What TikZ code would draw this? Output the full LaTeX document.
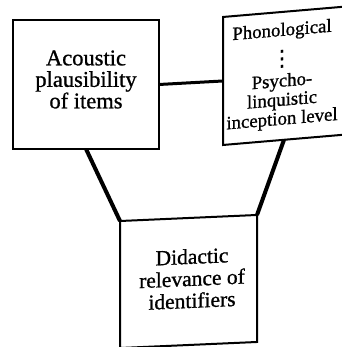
\documentclass[tikz,border=0pt]{standalone}
\usepackage{fontspec}
\setmainfont{Liberation Serif}[FakeBold=0.9]
\newfontfamily\dotsfont{DejaVu Sans}[FakeBold=0.9]
\begin{document}
\begin{tikzpicture}[x=1pt,y=1pt,
  box/.style={draw, line width=2pt, inner sep=0pt, outer sep=0pt},
  conn/.style={line width=4pt},
  txt/.style={align=center, inner sep=0pt}]
\useasboundingbox (0,0) rectangle (341,347);
\node[box, minimum width=146pt, minimum height=129pt] (A) at (86,262.5) {};
\node[box, minimum width=122pt, minimum height=128pt, yslant=0.085] (B) at (284,271.2) {};
\node[box, minimum width=137pt, minimum height=127pt, yslant=0.044] (C) at (188.5,65.5) {};
\node[txt, font=\fontsize{22.5}{21.5}\selectfont] (At) at ([yshift=5pt]A.center)
  {Acoustic\\plausibility\\of items};
\node[txt, yslant=0.085, font=\fontsize{18.8}{19}\selectfont] (Bt) at ([xshift=-2pt]B.center)
  {Phonological\\[9pt]{\dotsfont\fontsize{22}{22}\selectfont ⋮}\\[2pt]Psycho-\\linquistic\\inception level};
\node[txt, yslant=0.044, font=\fontsize{21.5}{22}\selectfont] (Ct) at ([xshift=3.5pt,yshift=3pt]C.center)
  {Didactic\\relevance of\\identifiers};
\draw[conn, line width=3pt] (A.east) -- (B.west);
\draw[conn] (A.south) -- (C.north west);
\draw[conn] (B.south) -- (C.north east);
\end{tikzpicture}
\end{document}
